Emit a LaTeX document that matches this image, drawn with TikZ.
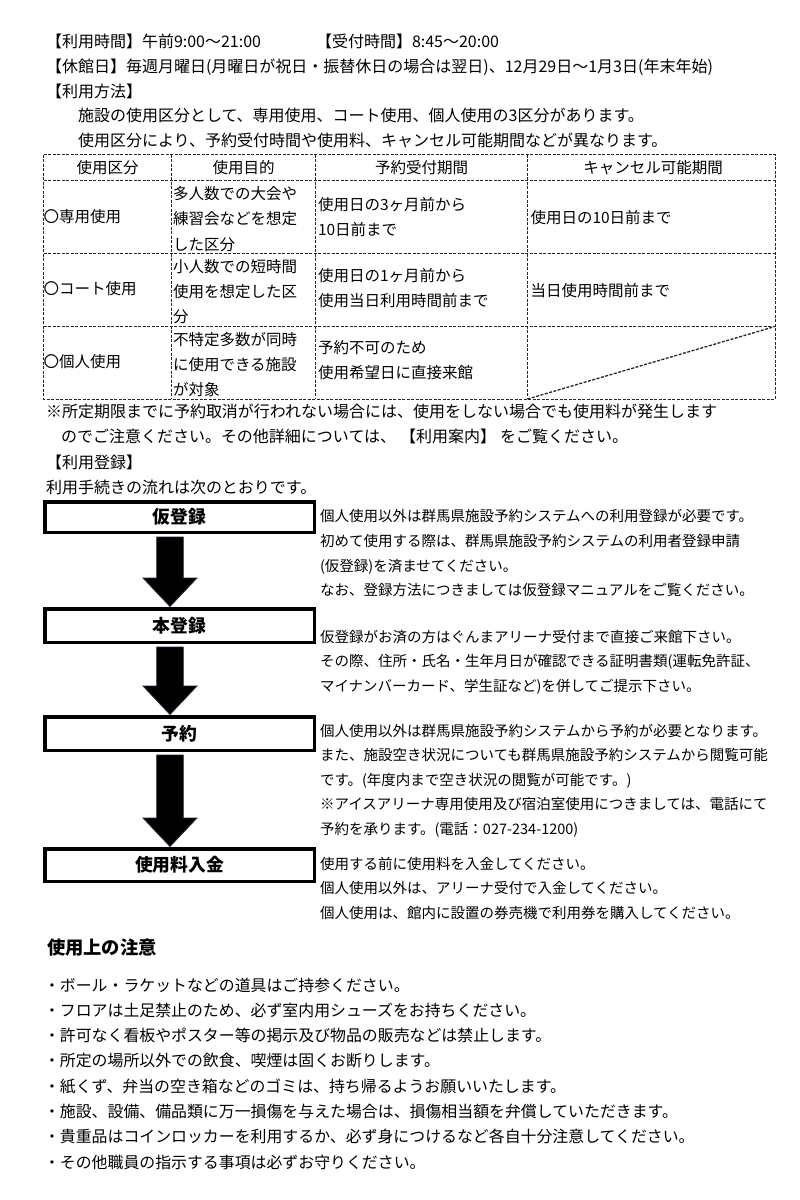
\documentclass[tikz,border=0pt]{standalone}
\usepackage{fontspec}
\setmainfont{Noto Sans CJK JP}
\usetikzlibrary{calc}
\newcommand\fsz[1]{\fontsize{#1pt}{#1pt}\selectfont}
\definecolor{arrline}{HTML}{1F2A3A}
\tikzset{
  base/.style={anchor=west, inner sep=0pt, outer sep=0pt},
  t16/.style={base, font=\fsz{16}, text height=14.08pt, text depth=1.92pt},
  t155/.style={base, font=\fsz{15.5}, text height=13.64pt, text depth=1.86pt},
  t145/.style={base, font=\fsz{14.5}, text height=12.76pt, text depth=1.74pt},
  t159/.style={base, font=\fsz{15.9}, text height=13.99pt, text depth=1.91pt},
  hd/.style={t155, anchor=center},
  heading/.style={base, font=\bfseries\fsz{18.3}, text height=16.1pt, text depth=2.2pt},
  flowbox/.style={draw=black, line width=3.5pt, fill=white, minimum width=269.5pt,
    inner sep=0pt, outer sep=0pt, font=\bfseries\fsz{17.8}, text height=15.66pt, text depth=2.14pt},
  tline/.style={draw=black!85, line width=0.9pt, dash pattern=on 3pt off 1.5pt},
  diag/.style={draw=black!85, line width=1.3pt, dash pattern=on 3pt off 1.5pt},
  arrfill/.style={fill=black, draw=arrline, line width=0.8pt, line join=miter},
}
\newcommand\blockarrow[2]{%
  \filldraw[arrfill] let \p1=(#1.south), \p2=(#2.north) in
    (\x1-22.8pt, \y1-4.75pt) -- (\x1+3.8pt, \y1-4.75pt) -- (\x1+3.8pt, \y2+30.75pt)
    -- (\x1+17.5pt, \y2+30.75pt) -- (\x1-9.5pt, \y2+2.25pt) -- (\x1-36.5pt, \y2+30.75pt)
    -- (\x1-22.8pt, \y2+30.75pt) -- cycle;}
\begin{document}
\begin{tikzpicture}[x=1pt, y=-1pt]
\fill[white] (0,0) rectangle (800,1200);
\useasboundingbox (0,0) rectangle (800,1200);

% ---- top lines
\node[t16] (l1a) at (46,41) {【利用時間】午前9:00～21:00};
\node[t16] (l1b) at (316,41) {【受付時間】8:45～20:00};
\node[t16] (l2) at (46,66.5) {【休館日】毎週月曜日(月曜日が祝日・振替休日の場合は翌日)、12月29日～1月3日(年末年始)};
\node[t16] (l3) at (46,91.5) {【利用方法】};
\node[t16] (l4) at (78,115.5) {施設の使用区分として、専用使用、コート使用、個人使用の3区分があります。};
\node[t16] (l5) at (78,140.5) {使用区分により、予約受付時間や使用料、キャンセル可能期間などが異なります。};

% ---- table
\draw[tline] (43.5,154.5) rectangle (775,399);
\draw[tline] (43.5,180) -- (775,180);
\draw[tline] (43.5,253.5) -- (775,253.5);
\draw[tline] (43.5,326.5) -- (775,326.5);
\draw[tline] (171.5,154.5) -- (171.5,399);
\draw[tline] (315.5,154.5) -- (315.5,399);
\draw[tline] (527.5,154.5) -- (527.5,399);
\draw[diag] (527.5,399) -- (775,326.5);

\node[hd] (h1) at (107.5,167.5) {使用区分};
\node[hd] (h2) at (243.5,167.5) {使用目的};
\node[hd] (h3) at (421.5,167.5) {予約受付期間};
\node[hd] (h4) at (653,167.5) {キャンセル可能期間};

\node[t155] (r1a) at (43.5,216.7) {〇専用使用};
\node[t155] (r1b1) at (173,193.3) {多人数での大会や};
\node[t155] (r1b2) at (173,219) {練習会などを想定};
\node[t155] (r1b3) at (173,244.3) {した区分};
\node[t155] (r1c1) at (318,205) {使用日の3ヶ月前から};
\node[t155] (r1c2) at (318,229.5) {10日前まで};
\node[t155] (r1d) at (530.5,217.5) {使用日の10日前まで};

\node[t155] (r2a) at (43.5,289) {〇コート使用};
\node[t155] (r2b1) at (173,266.7) {小人数での短時間};
\node[t155] (r2b2) at (173,291.7) {使用を想定した区};
\node[t155] (r2b3) at (173,316.7) {分};
\node[t155] (r2c1) at (318,276) {使用日の1ヶ月前から};
\node[t155] (r2c2) at (318,300.5) {使用当日利用時間前まで};
\node[t155] (r2d) at (530.5,291) {当日使用時間前まで};

\node[t155] (r3a) at (43.5,362) {〇個人使用};
\node[t155] (r3b1) at (173,340) {不特定多数が同時};
\node[t155] (r3b2) at (173,365) {に使用できる施設};
\node[t155] (r3b3) at (173,390) {が対象};
\node[t155] (r3c1) at (318,348) {予約不可のため};
\node[t155] (r3c2) at (318,372.5) {使用希望日に直接来館};

% ---- notes
\node[t16] (n1) at (46,411) {※所定期限までに予約取消が行われない場合には、使用をしない場合でも使用料が発生します};
\node[t16] (n2) at (61,436.5) {のでご注意ください。その他詳細については、\hspace{4pt}【利用案内】\hspace{4pt}をご覧ください。};
\node[t16] (n3) at (46,462) {【利用登録】};
\node[t16] (n4) at (46,487) {利用手続きの流れは次のとおりです。};

% ---- flow
\node[flowbox, minimum height=30.5pt] (b1) at (179.5,517) {仮登録};
\node[flowbox, minimum height=33.5pt] (b2) at (179.5,625.5) {本登録};
\node[flowbox, minimum height=33.5pt] (b3) at (179.5,733.5) {予約};
\node[flowbox, minimum height=32.5pt] (b4) at (179.5,865) {使用料入金};
\blockarrow{b1}{b2}
\blockarrow{b2}{b3}
\blockarrow{b3}{b4}

\node[t145] (f11) at (320,516) {個人使用以外は群馬県施設予約システムへの利用登録が必要です。};
\node[t145] (f12) at (320,541) {初めて使用する際は、群馬県施設予約システムの利用者登録申請};
\node[t145] (f13) at (320,565.5) {(仮登録)を済ませてください。};
\node[t145] (f14) at (320,590) {なお、登録方法につきましては仮登録マニュアルをご覧ください。};

\node[t145] (f21) at (320,636.7) {仮登録がお済の方はぐんまアリーナ受付まで直接ご来館下さい。};
\node[t145] (f22) at (320,661) {その際、住所・氏名・生年月日が確認できる証明書類(運転免許証、};
\node[t145] (f23) at (320,685.5) {マイナンバーカード、学生証など)を併してご提示下さい。};

\node[t145] (f31) at (320,730.5) {個人使用以外は群馬県施設予約システムから予約が必要となります。};
\node[t145] (f32) at (320,755) {また、施設空き状況についても群馬県施設予約システムから閲覧可能};
\node[t145] (f33) at (320,779.5) {です。(年度内まで空き状況の閲覧が可能です。)};
\node[t145] (f34) at (320,804) {※アイスアリーナ専用使用及び宿泊室使用につきましては、電話にて};
\node[t145] (f35) at (320,828.5) {予約を承ります。(電話：027-234-1200)};

\node[t145] (f41) at (320,863.5) {使用する前に使用料を入金してください。};
\node[t145] (f42) at (320,888) {個人使用以外は、アリーナ受付で入金してください。};
\node[t145] (f43) at (320,912.5) {個人使用は、館内に設置の券売機で利用券を購入してください。};

% ---- cautions
\node[heading] (hd) at (47,948) {使用上の注意};
\node[t159] (p1) at (44,985) {・ボール・ラケットなどの道具はご持参ください。};
\node[t159] (p2) at (44,1010.3) {・フロアは土足禁止のため、必ず室内用シューズをお持ちください。};
\node[t159] (p3) at (44,1035.6) {・許可なく看板やポスター等の掲示及び物品の販売などは禁止します。};
\node[t159] (p4) at (44,1060.9) {・所定の場所以外での飲食、喫煙は固くお断りします。};
\node[t159] (p5) at (44,1086.2) {・紙くず、弁当の空き箱などのゴミは、持ち帰るようお願いいたします。};
\node[t159] (p6) at (44,1111.5) {・施設、設備、備品類に万一損傷を与えた場合は、損傷相当額を弁償していただきます。};
\node[t159] (p7) at (44,1136.8) {・貴重品はコインロッカーを利用するか、必ず身につけるなど各自十分注意してください。};
\node[t159] (p8) at (44,1162.1) {・その他職員の指示する事項は必ずお守りください。};
\end{tikzpicture}
\end{document}
